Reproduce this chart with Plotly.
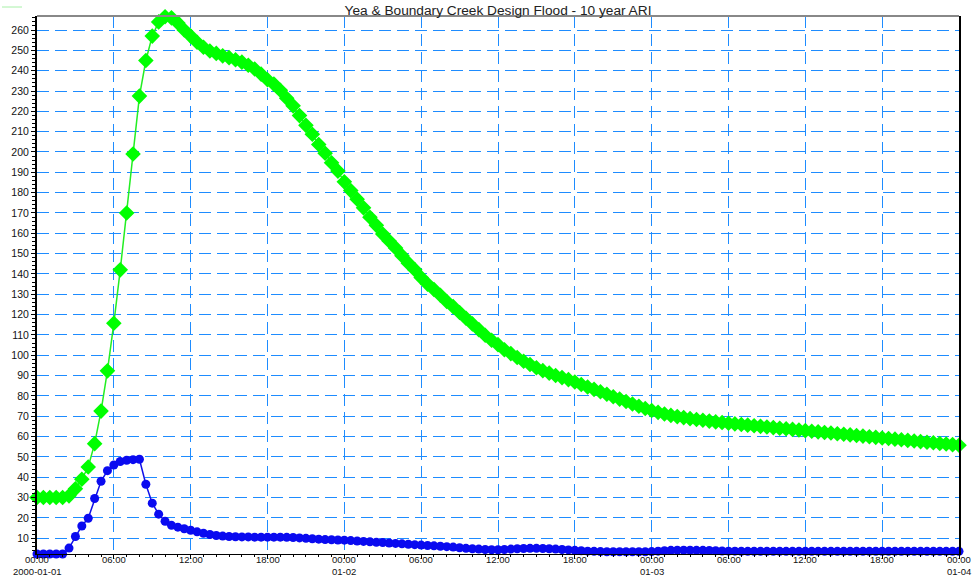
import pandas as pd
import plotly.graph_objects as go

# ---- data (30-minute steps, 2000-01-01 00:00 .. 2000-01-04 00:00) ----
start_time = "2000-01-01 00:00"
n_steps = 145

green_flow = [
    30, 30, 30, 30, 30, 30.8, 34.3, 39, 45, 56.5,
    72.5, 92.3, 115.7, 142, 170, 199, 227.5, 245, 257, 264,
    266.5, 266, 263.5, 260, 257, 254, 251.5, 249.7, 248.5, 247.3,
    246.4, 245.4, 244.2, 242.7, 240.8, 238.3, 235.5, 233.4, 230.4, 226.4,
    222.7, 217.9, 213.1, 208.7, 203.7, 199.4, 194.7, 190.6, 185.3, 181,
    176.8, 172.5, 167.9, 163.9, 159.6, 156.2, 152.8, 149, 145.3, 142.1,
    138.2, 135, 132.3, 129.5, 126.4, 123.9, 121, 118.2, 115.4, 112.6,
    109.8, 107.4, 105.2, 102.7, 100.8, 98.9, 97, 95.4, 93.8, 92.4,
    91.2, 90, 89, 88, 86.8, 85.6, 84.4, 83.2, 82, 80.8,
    79.6, 78.4, 77.2, 76, 74.9, 73.8, 72.8, 71.9, 71.1, 70.4,
    69.8, 69.3, 68.8, 68.4, 68, 67.6, 67.2, 66.9, 66.5, 66.2,
    65.9, 65.6, 65.3, 65, 64.7, 64.4, 64.1, 63.8, 63.5, 63.2,
    62.9, 62.6, 62.3, 62, 61.7, 61.4, 61.1, 60.8, 60.5, 60.2,
    59.9, 59.6, 59.3, 59, 58.7, 58.4, 58.1, 57.8, 57.5, 57.2,
    56.9, 56.6, 56.3, 56.0, 55.7,
]

blue_flow = [
    2.2, 2.2, 2.2, 2.2, 2.2, 5.1, 10.8, 16, 19.8, 29.5,
    38, 43.2, 46, 47.7, 48.3, 48.6, 48.8, 36.5, 27.2, 21.8,
    18.3, 16.3, 15.4, 14.6, 13.9, 13.1, 12.4, 11.8, 11.3, 11.0,
    10.8, 10.7, 10.6, 10.6, 10.5, 10.5, 10.5, 10.5, 10.5, 10.4,
    10.3, 10.1, 9.9, 9.7, 9.5, 9.3, 9.2, 9.1, 9.0, 8.8,
    8.6, 8.4, 8.2, 8.0, 7.8, 7.6, 7.4, 7.2, 7.0, 6.8,
    6.6, 6.4, 6.2, 6.0, 5.8, 5.6, 5.3, 5.0, 4.8, 4.6,
    4.4, 4.3, 4.3, 4.4, 4.6, 4.8, 4.9, 5.0, 5.0, 4.9,
    4.8, 4.6, 4.4, 4.2, 4.0, 3.8, 3.6, 3.5, 3.4, 3.3,
    3.3, 3.3, 3.3, 3.3, 3.3, 3.3, 3.4, 3.6, 3.8, 4.0,
    4.1, 4.1, 4.1, 4.0, 4.0, 3.9, 3.8, 3.7, 3.6, 3.6,
    3.5, 3.5, 3.5, 3.5, 3.5, 3.5, 3.5, 3.5, 3.5, 3.5,
    3.5, 3.5, 3.5, 3.5, 3.5, 3.5, 3.5, 3.5, 3.5, 3.5,
    3.5, 3.5, 3.5, 3.5, 3.5, 3.5, 3.5, 3.5, 3.5, 3.5,
    3.5, 3.5, 3.5, 3.5, 3.5,
]

x_tick_values = [
    "2000-01-01 00:00", "2000-01-01 06:00", "2000-01-01 12:00", "2000-01-01 18:00",
    "2000-01-02 00:00", "2000-01-02 06:00", "2000-01-02 12:00", "2000-01-02 18:00",
    "2000-01-03 00:00", "2000-01-03 06:00", "2000-01-03 12:00", "2000-01-03 18:00",
    "2000-01-04 00:00",
]
x_time_labels = [
    "00:00", "06:00", "12:00", "18:00",
    "00:00", "06:00", "12:00", "18:00",
    "00:00", "06:00", "12:00", "18:00",
    "00:00",
]
x_date_values = ["2000-01-01 00:00", "2000-01-02 00:00", "2000-01-03 00:00", "2000-01-04 00:00"]
x_date_labels = ["2000-01-01", "01-02", "01-03", "01-04"]
y_tick_values = list(range(10, 261, 10))

title_text = "Yea & Boundary Creek Design Flood - 10 year ARI"

times = pd.date_range(start_time, periods=n_steps, freq="30min")

FONT = "Liberation Sans, Arial, sans-serif"
GRID = "#1e8cff"
PLOT_H = 577 - 16 - 23

fig = go.Figure()
fig.add_trace(go.Scatter(
    x=times, y=green_flow, mode="lines+markers",
    line=dict(color="#22ee22", width=1.5),
    marker=dict(symbol="diamond", size=12, color="#00ff00", line=dict(width=0)),
    cliponaxis=False, showlegend=False, name="Yea",
))
fig.add_trace(go.Scatter(
    x=times, y=blue_flow, mode="lines+markers",
    line=dict(color="#1010e8", width=1.5),
    marker=dict(symbol="circle", size=9, color="#0a0af0", line=dict(width=0)),
    cliponaxis=False, showlegend=False, name="Boundary",
))

fig.update_layout(
    width=973, height=577,
    margin=dict(l=37, r=14, t=16, b=23),
    paper_bgcolor="white", plot_bgcolor="white",
    font=dict(family=FONT, size=10, color="#222"),
    title=dict(text=title_text, x=498 / 973, xanchor="center",
               y=1 - 10 / 577, yanchor="middle", yref="container",
               font=dict(family=FONT, size=13.7, color="#222")),
    showlegend=False,
)
fig.update_xaxes(
    type="date", automargin=False,
    range=["2000-01-01 00:00", "2000-01-04 00:00"],
    tickvals=x_tick_values, showticklabels=False,
    ticks="outside", ticklen=4, tickcolor="#000", tickwidth=1,
    showline=True, linecolor="#000", linewidth=1,
    showgrid=True, gridcolor=GRID, gridwidth=1, griddash="12px,6px",
    minor=dict(dtick=3600000, ticks="outside", ticklen=2, tickcolor="#000",
               showgrid=False, gridcolor=GRID),
    zeroline=False,
)
fig.update_yaxes(
    automargin=False,
    range=[2.2, 266.9],
    tickvals=y_tick_values,
    ticks="outside", ticklen=4, tickcolor="#000", tickwidth=1,
    tickfont=dict(size=10.5, color="#111"),
    showline=True, linecolor="#000", linewidth=2, mirror=True,
    showgrid=True, gridcolor=GRID, gridwidth=1, griddash="12px,6px",
    minor=dict(dtick=2, ticks="outside", ticklen=3, tickcolor="#000",
               showgrid=False, gridcolor=GRID),
    zeroline=False,
)

# x tick labels (two rows) as annotations
for xv, txt in zip(x_tick_values, x_time_labels):
    fig.add_annotation(x=xv, xref="x", y=-(559.5 - 554) / PLOT_H, yref="paper",
                       text=txt, showarrow=False, xanchor="center", yanchor="middle",
                       borderpad=0, font=dict(family=FONT, size=9.5, color="#111"))
for xv, txt in zip(x_date_values, x_date_labels):
    fig.add_annotation(x=xv, xref="x", y=-(571 - 554) / PLOT_H, yref="paper",
                       text=txt, showarrow=False, xanchor="center", yanchor="middle",
                       borderpad=0, font=dict(family=FONT, size=9.5, color="#111"))

# grey top border of the plot frame
fig.add_shape(type="line", xref="paper", yref="paper", x0=0, x1=1, y0=1, y1=1,
              line=dict(color="#888", width=2), layer="above")
# tiny legend stub at top-left
fig.add_shape(type="line", xref="paper", yref="paper",
              x0=-35 / 922, x1=-15 / 922, y0=1 + 9 / 538, y1=1 + 9 / 538,
              line=dict(color="#a8f0a8", width=1))

fig.write_html("out.html", config={"displayModeBar": False},
               post_script="document.body.style.margin='0';document.body.style.overflow='hidden';")
